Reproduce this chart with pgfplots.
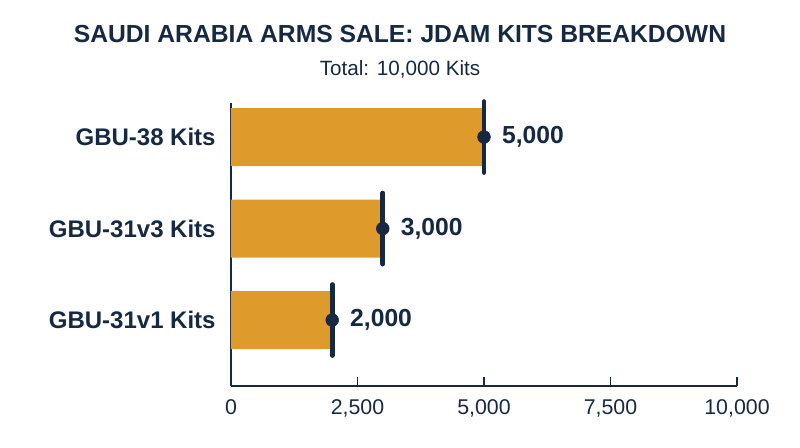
\documentclass[border=0pt]{standalone}
\usepackage{pgfplots}
\pgfplotsset{compat=1.18}
\usepackage{fontspec}
\setmainfont{Liberation Sans}

\definecolor{navy}{HTML}{162842}
\definecolor{gold}{HTML}{DE9B2B}

\begin{document}
\begin{tikzpicture}
    % page frame, 800x447 px at 0.75pt per px
    \useasboundingbox (0,0) rectangle (600pt,335.25pt);

    \node[text=navy, font=\fontsize{18.5}{21}\selectfont\bfseries]
        at (300pt,309.5pt) {SAUDI ARABIA ARMS SALE: JDAM KITS BREAKDOWN};
    \node[text=navy, font=\fontsize{15.5}{18}\selectfont]
        at (300pt,283.5pt) {Total: 10,000 Kits};

    \begin{axis}[
        at={(173.25pt,45.75pt)}, anchor=south west,
        scale only axis,
        width=379.5pt, height=212.25pt,
        xmin=0, xmax=10000,
        ymin=-0.721, ymax=2.372,
        axis lines*=left,
        axis line style={navy, line width=1.1pt},
        xtick={0,2500,5000,7500,10000},
        scaled x ticks=false,
        xticklabel style={/pgf/number format/1000 sep={,},
            /pgf/number format/assume math mode=true,
            font=\fontsize{16}{18}\selectfont, text=navy, yshift=-7pt},
        xtick align=inside,
        major tick length=6.5pt,
        x tick style={navy, line width=1.1pt},
        ytick={0,1,2},
        yticklabels={GBU-31v1 Kits, GBU-31v3 Kits, GBU-38 Kits},
        y tick style={draw=none},
        yticklabel style={font=\fontsize{18}{20}\selectfont\bfseries, text=navy, xshift=-8pt},
        clip=false,
    ]
    % bars
    \addplot[xbar, bar width=0.634, fill=gold, draw=none]
        coordinates {(2000,0) (3000,1) (5000,2)};

    % end markers: vertical line
    \addplot[only marks, mark=|, mark size=26.6pt,
        mark options={line width=3.6pt, line cap=round, draw=navy}]
        coordinates {(2000,0) (3000,1) (5000,2)};

    % end markers: dot with value label
    \addplot[only marks, mark=*, mark size=4.8pt,
        mark options={fill=navy, draw=navy},
        point meta=x,
        nodes near coords={\pgfmathprintnumber[1000 sep={,}, assume math mode=true]{\pgfplotspointmeta}},
        nodes near coords style={anchor=west, xshift=10pt, text=navy,
            font=\fontsize{18.5}{20}\selectfont\bfseries}]
        coordinates {(2000,0) (3000,1) (5000,2)};
    \end{axis}
\end{tikzpicture}
\end{document}
